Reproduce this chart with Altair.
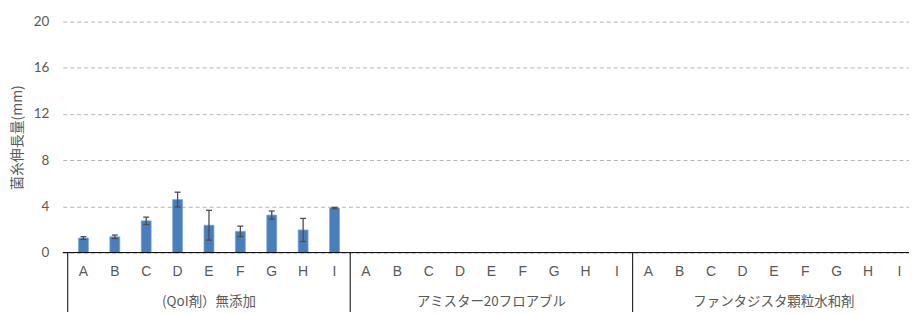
import altair as alt
import pandas as pd

groups = ["(QoI剤）無添加", "アミスター20フロアブル", "ファンタジスタ顆粒水和剤"]
letters = ["A", "B", "C", "D", "E", "F", "G", "H", "I"]
values_g1 = [1.26, 1.37, 2.75, 4.59, 2.37, 1.84, 3.25, 1.96, 3.86]
errors_g1 = [0.12, 0.15, 0.32, 0.64, 1.29, 0.45, 0.35, 1.00, 0.06]
y_ticks = [0, 4, 8, 12, 16, 20]

W, H = 850, 232
XMAX = W / 31.9

bars = pd.DataFrame({
    "pos": [i + 0.5 for i in range(len(letters))],
    "v": values_g1,
    "lo": [v - e for v, e in zip(values_g1, errors_g1)],
    "hi": [v + e for v, e in zip(values_g1, errors_g1)],
})
lab = pd.DataFrame({
    "pos": [g * 9 + i + 0.5 for g in range(len(groups)) for i in range(len(letters))],
    "t": [l for g in range(len(groups)) for l in letters],
})
grp = pd.DataFrame({"pos": [g * 9 + 4.5 for g in range(len(groups))], "t": groups})
div = pd.DataFrame({"pos": [0, 9, 18, 27]})
zero = pd.DataFrame({"y": [0]})

xs = alt.Scale(domain=[0, XMAX], nice=False, zero=False)
ys = alt.Scale(domain=[0, 20], nice=False)

base_y_axis = alt.Axis(values=y_ticks, grid=True, gridDash=[4, 3], gridColor="#b5b5b5",
                       ticks=False, domain=False, labelPadding=14, labelFontSize=13.5,
                       labelColor="#595959", labelFont="Lato",
                       title="菌糸伸長量(mm)", titleFont="Noto Sans CJK JP",
                       titleFontSize=14, titleFontWeight="normal", titleColor="#595959",
                       titleAngle=270, titleX=-45, titleY=116, titleAlign="center",
                       titleBaseline="middle")

bar = alt.Chart(bars).mark_bar(size=10, color="#4a7ebb", stroke="#7ea6d6", strokeWidth=0.7).encode(
    x=alt.X("pos:Q", scale=xs, axis=None),
    y=alt.Y("v:Q", scale=ys, axis=base_y_axis),
)
err = alt.Chart(bars).mark_rule(color="#4d4d4d", strokeWidth=1.3).encode(
    x=alt.X("pos:Q", scale=xs), y=alt.Y("lo:Q", scale=ys), y2="hi:Q")
cap_hi = alt.Chart(bars).mark_rule(color="#4d4d4d", strokeWidth=1.3, xOffset=-3, x2Offset=3).encode(
    x=alt.X("pos:Q", scale=xs), x2="pos:Q", y=alt.Y("hi:Q", scale=ys))
cap_lo = alt.Chart(bars).mark_rule(color="#4d4d4d", strokeWidth=1.3, xOffset=-3, x2Offset=3).encode(
    x=alt.X("pos:Q", scale=xs), x2="pos:Q", y=alt.Y("lo:Q", scale=ys))

zline = alt.Chart(zero).mark_rule(color="#000000", strokeWidth=1).encode(
    y=alt.Y("y:Q", scale=ys), x=alt.value(0), x2=alt.value(W + 10))
divs = alt.Chart(div).mark_rule(color="#000000", strokeWidth=1).encode(
    x=alt.X("pos:Q", scale=xs), y=alt.value(H), y2=alt.value(H + 60))
ltxt = alt.Chart(lab).mark_text(font="Liberation Sans", fontSize=14, color="#595959",
                                baseline="middle").encode(
    x=alt.X("pos:Q", scale=xs), y=alt.value(252), text="t:N")
gtxt = alt.Chart(grp).mark_text(font="Noto Sans CJK JP", fontSize=13.5, color="#595959",
                                baseline="middle").encode(
    x=alt.X("pos:Q", scale=xs), y=alt.value(282), text="t:N")

chart = alt.layer(bar, err, cap_hi, cap_lo, zline, divs, ltxt, gtxt).properties(
    width=W, height=H,
    background="#ffffff",
    autosize=alt.AutoSizeParams(type="none"),
    padding={"left": 55, "top": 13, "right": 0, "bottom": 59},
).configure_view(strokeWidth=0, stroke="transparent")

chart.save("out.html", embed_options={"renderer": "svg", "actions": False})
